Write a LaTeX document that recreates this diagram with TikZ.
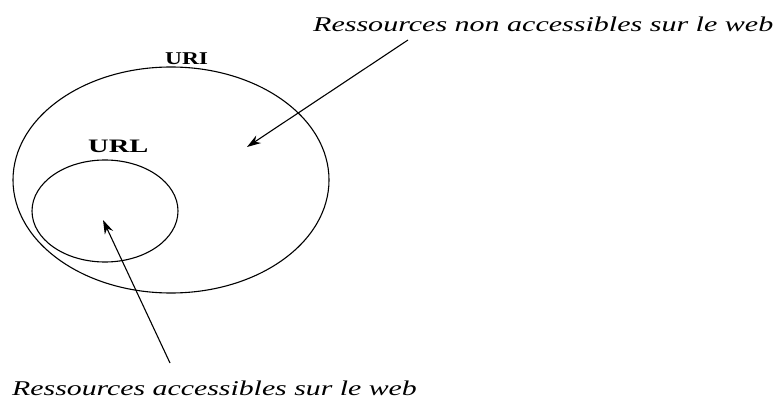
\documentclass[tikz,border=0pt]{standalone}
\usepackage{fontspec}
\setmainfont{Liberation Serif}
\usetikzlibrary{arrows.meta,shapes.geometric}

\tikzset{
  setline/.style={draw, ellipse, line width=1.1pt, inner sep=0pt},
  pointer/.style={line width=1.1pt, -{Stealth[length=14pt,width=9pt]}},
  caption/.style={anchor=base west, inner sep=0pt,
    font=\fontsize{21}{24}\selectfont\itshape},
  setname/.style={anchor=base west, inner sep=0pt, font=\bfseries},
}

\begin{document}
\begin{tikzpicture}[x=1pt, y=-1pt]
  \useasboundingbox (0,0) rectangle (776,398);

  % the two nested sets
  \node[setline, minimum width=316pt, minimum height=226pt] (uri) at (171,180) {};
  \node[setline, minimum width=146pt, minimum height=102pt] (url) at (105,211) {};

  % set names
  \node[setname] (urilabel) at (165,65)
    {\fontsize{18}{20}\selectfont\scalebox{1.3}[1]{URI}};
  \node[setname] (urllabel) at (88,153)
    {\fontsize{19}{21}\selectfont\scalebox{1.5}[1]{URL}};

  % captions
  \node[caption] (outside) at (313,32)
    {\scalebox{1.43}[1]{Ressources non accessibles sur le web}};
  \node[caption] (inside) at (12,395)
    {\scalebox{1.42}[1]{Ressources accessibles sur le web}};

  % arrow ends
  \coordinate (tailA) at (408,40);
  \coordinate (tipA) at (247,147);
  \coordinate (tailB) at (170,363);
  \coordinate (tipB) at (103,220);

  \draw[pointer] (tailA) -- (tipA);
  \draw[pointer] (tailB) -- (tipB);
\end{tikzpicture}
\end{document}
